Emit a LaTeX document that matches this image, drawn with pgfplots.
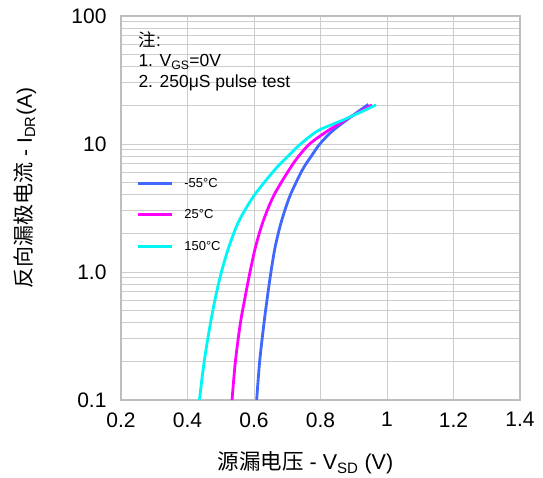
\documentclass[border=0pt]{standalone}
\usepackage{pgfplots}
\pgfplotsset{compat=1.18}
\usepackage{fontspec}
\setmainfont{Liberation Sans}
\newfontfamily\cjk{Noto Sans CJK SC}
\definecolor{cblue}{RGB}{64,104,255}
\definecolor{cmag}{RGB}{255,0,255}
\definecolor{ccyan}{RGB}{0,245,245}
\definecolor{gridc}{RGB}{205,205,205}
\definecolor{framec}{RGB}{190,190,190}
\begin{document}
\begin{tikzpicture}
\path[use as bounding box] (0,0) rectangle (543pt,477pt);
\begin{axis}[
  at={(121pt,77pt)}, anchor=south west,
  scale only axis, width=399pt, height=384pt,
  xmin=0.2, xmax=1.4, ymin=0.1, ymax=100,
  ymode=log,
  xtick={0.2,0.4,0.6,0.8,1.0,1.2,1.4},
  xticklabels={0.2,0.4,0.6,0.8,1,1.2,1.4},
  ytick={0.1,1,10,100},
  yticklabels={0.1,1.0,10,100},
  minor ytick={0.2,0.3,0.4,0.5,0.6,0.7,0.8,0.9,2,3,4,5,6,7,8,9,20,30,40,50,60,70,80,90},
  major tick length=0pt, minor tick length=0pt,
  grid=both,
  major grid style={gridc, line width=0.9pt},
  minor grid style={gridc, line width=0.9pt},
  axis line style={framec, line width=1.6pt},
  /pgf/number format/assume math mode=true,
  tick label style={font=\fontsize{21}{25}\selectfont},
  xticklabel style={yshift=-9pt},
  yticklabel style={xshift=-11pt},
  xlabel={{\cjk 源漏电压} - V\textsubscript{SD} (V)},
  ylabel={{\cjk 反向漏极电流} - I\textsubscript{DR}(A)},
  xlabel style={font=\fontsize{21.5}{25}\selectfont, at={(axis description cs:0.4624,-0.164)}, anchor=center},
  ylabel style={font=\fontsize{21}{25}\selectfont, at={(axis description cs:-0.24,0.552)}, anchor=center},
  legend style={at={(rel axis cs:0.038,0.584)}, anchor=north west, draw=none, fill=none,
    font=\fontsize{13}{15}\selectfont, row sep=17pt, inner sep=0pt},
  legend cell align=left,
  legend image code/.code={\draw[#1, line width=3pt] (0pt,0pt) -- (34pt,0pt);},
]
\addplot[cblue, line width=2.8pt, smooth, tension=0.5] coordinates {
(0.608,0.1) (0.617,0.2) (0.630,0.398) (0.640,0.631) (0.651,1.0) (0.664,1.585) (0.683,2.512) (0.709,3.981) (0.746,6.31) (0.771,7.943) (0.798,10.0) (0.835,12.59) (0.885,15.85) (0.944,20.4)};
\addlegendentry{\hspace{9pt}-55°C}
\addplot[cmag, line width=2.8pt, smooth, tension=0.5] coordinates {
(0.534,0.1) (0.544,0.2) (0.559,0.398) (0.573,0.631) (0.588,1.0) (0.605,1.585) (0.628,2.512) (0.660,3.981) (0.706,6.31) (0.733,7.943) (0.767,10.0) (0.820,12.59) (0.883,15.85) (0.955,20.2)};
\addlegendentry{\hspace{9pt}25°C}
\addplot[ccyan, line width=2.8pt, smooth, tension=0.5] coordinates {
(0.436,0.1) (0.445,0.158) (0.456,0.251) (0.469,0.398) (0.484,0.631) (0.502,1.0) (0.525,1.585) (0.555,2.512) (0.601,3.981) (0.663,6.31) (0.700,7.943) (0.740,10.0) (0.790,12.6) (0.835,14.2) (0.883,16.0) (0.967,20.2)};
\addlegendentry{\hspace{9pt}150°C}
\node[anchor=west, font=\fontsize{17.5}{20}\selectfont] at (rel axis cs:0.035,0.9375) {{\cjk 注}:};
\node[anchor=west, font=\fontsize{17.5}{20}\selectfont] at (rel axis cs:0.035,0.88) {1. V\textsubscript{GS}=0V};
\node[anchor=west, font=\fontsize{17.5}{20}\selectfont] at (rel axis cs:0.035,0.8255) {2. 250μS pulse test};
\end{axis}
\end{tikzpicture}
\end{document}
